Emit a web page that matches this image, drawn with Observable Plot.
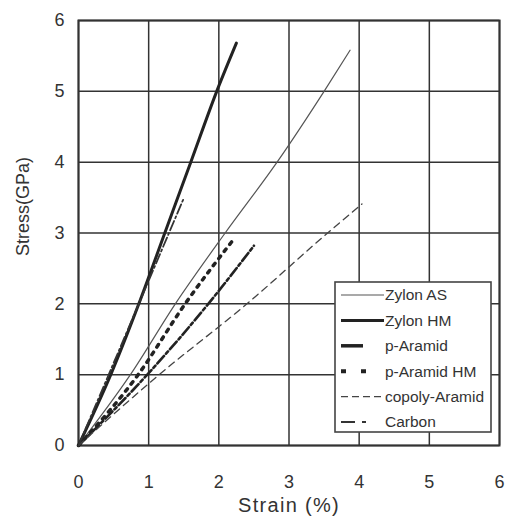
<!DOCTYPE html>
<html>
<head>
<meta charset="utf-8">
<script src="https://cdn.jsdelivr.net/npm/d3@7"></script>
<script src="https://cdn.jsdelivr.net/npm/@observablehq/plot@0.6"></script>
<style>
  html, body { margin: 0; padding: 0; background: white; }
  #wrap { position: relative; width: 505px; height: 525px; }
  #legend { position: absolute; left: 334px; top: 281px; }
</style>
</head>
<body>
<div id="wrap"></div>
<script>
// ---- data ----
const xTicks = [0, 1, 2, 3, 4, 5, 6];
const yTicks = [0, 1, 2, 3, 4, 5, 6];
const seriesNames = ["Zylon AS", "Zylon HM", "p-Aramid", "p-Aramid HM", "copoly-Aramid", "Carbon"];

const zylonASStrain = [0, 0.74, 1.38, 2.09, 2.83, 3.5, 3.87];
const zylonASStress = [0, 1.0, 2.0, 3.0, 4.0, 5.0, 5.58];
const zylonHMStrain = [0, 0.46, 0.86, 1.23, 1.6, 1.97, 2.25];
const zylonHMStress = [0, 1.0, 2.0, 3.0, 4.0, 5.0, 5.68];
const pAramidStrain = [0, 0.98, 1.85, 2.5];
const pAramidStress = [0, 1.0, 2.0, 2.82];
const pAramidHMStrain = [0, 0.85, 1.52, 2.21];
const pAramidHMStress = [0, 1.0, 2.0, 2.91];
const copolyStrain = [0, 1.15, 2.4, 3.55, 4.04];
const copolyStress = [0, 1.0, 2.0, 3.0, 3.41];
const carbonStrain = [0, 1.5];
const carbonStress = [0, 3.49];

const xLabel = "Strain (%)";
const yLabel = "Stress(GPa)";

// ---- styles (separate from data) ----
const styles = {
  "Zylon AS":      {stroke: "#555", strokeWidth: 1.2, dash: null},
  "Zylon HM":      {stroke: "#222", strokeWidth: 3, dash: null},
  "p-Aramid":      {stroke: "#222", strokeWidth: 2.6, dash: "10,3,3,3"},
  "p-Aramid HM":   {stroke: "#222", strokeWidth: 3.5, dash: "3,6"},
  "copoly-Aramid": {stroke: "#444", strokeWidth: 1.3, dash: "7,5"},
  "Carbon":        {stroke: "#333", strokeWidth: 1.8, dash: "10,3,2,3"}
};

const rawSeries = [
  [zylonASStrain, zylonASStress],
  [zylonHMStrain, zylonHMStress],
  [pAramidStrain, pAramidStress],
  [pAramidHMStrain, pAramidHMStress],
  [copolyStrain, copolyStress],
  [carbonStrain, carbonStress]
];
const series = seriesNames.map((name, i) => ({
  name,
  data: rawSeries[i][0].map((x, j) => ({strain: x, stress: rawSeries[i][1][j]}))
}));

const font = "'Liberation Sans', Arial, sans-serif";

const chart = Plot.plot({
  width: 505,
  height: 525,
  marginLeft: 78,
  marginRight: 6,
  marginTop: 20,
  marginBottom: 80,
  style: {background: "white", fontFamily: font, fontSize: "18px", color: "#333"},
  x: {domain: [0, 6], ticks: xTicks, tickFormat: d3.format("d")},
  y: {domain: [0, 6], ticks: yTicks, tickFormat: d3.format("d")},
  marks: [
    Plot.gridX(xTicks, {stroke: "#333", strokeOpacity: 1, strokeWidth: 1.5}),
    Plot.gridY(yTicks, {stroke: "#333", strokeOpacity: 1, strokeWidth: 1.5}),
    Plot.frame({stroke: "#333", strokeWidth: 2}),
    Plot.axisX(xTicks, {tickSize: 0, tickPadding: 30, fontSize: 18, tickFormat: d3.format("d"), label: null, fill: "#333"}),
    Plot.axisY(yTicks, {tickSize: 0, tickPadding: 14, fontSize: 18, tickFormat: d3.format("d"), label: null, fill: "#333"}),
    ...series.map(s => Plot.line(s.data, {
      x: "strain", y: "stress",
      stroke: styles[s.name].stroke,
      strokeWidth: styles[s.name].strokeWidth,
      strokeDasharray: styles[s.name].dash || undefined,
      curve: "monotone-x"
    })),
    Plot.text([xLabel], {text: d => d, frameAnchor: "bottom", dy: 66, fontSize: 20, fill: "#333"}),
    Plot.text([yLabel], {text: d => d, frameAnchor: "left", dx: -55, dy: 23, rotate: -90, fontSize: 18, fill: "#333"})
  ]
});

chart.querySelectorAll("text").forEach(t => {
  if (t.textContent === xLabel) t.setAttribute("letter-spacing", "1.3");
});

const wrap = document.getElementById("wrap");
wrap.appendChild(chart);

// ---- legend overlay ----
const legendDash = {
  "Zylon AS": {x2: 50, dash: null, w: 1.2},
  "Zylon HM": {x2: 50, dash: null, w: 3},
  "p-Aramid": {x2: 29, dash: null, w: 3.5},
  "p-Aramid HM": {x2: 34, dash: "5,15", w: 4},
  "copoly-Aramid": {x2: 47, dash: "7,4", w: 1.3},
  "Carbon": {x2: 40, dash: "14,7,4,20", w: 2}
};
const lw = 158, lh = 152;
const leg = d3.select(wrap).append("svg")
  .attr("id", "legend")
  .attr("width", lw).attr("height", lh);
leg.append("rect").attr("x", 1).attr("y", 1).attr("width", lw - 2).attr("height", lh - 2)
  .attr("fill", "white").attr("stroke", "#444").attr("stroke-width", 1.6);
seriesNames.forEach((name, i) => {
  const cy = 14 + i * 25.4;
  const st = styles[name], ld = legendDash[name];
  leg.append("line").attr("x1", 7).attr("x2", ld.x2).attr("y1", cy).attr("y2", cy)
    .attr("stroke", st.stroke).attr("stroke-width", ld.w)
    .attr("stroke-dasharray", ld.dash);
  leg.append("text").attr("x", 51).attr("y", cy).attr("dy", "0.35em")
    .attr("font-family", font).attr("font-size", 15.5).attr("fill", "#333")
    .text(name);
});
</script>
</body>
</html>
